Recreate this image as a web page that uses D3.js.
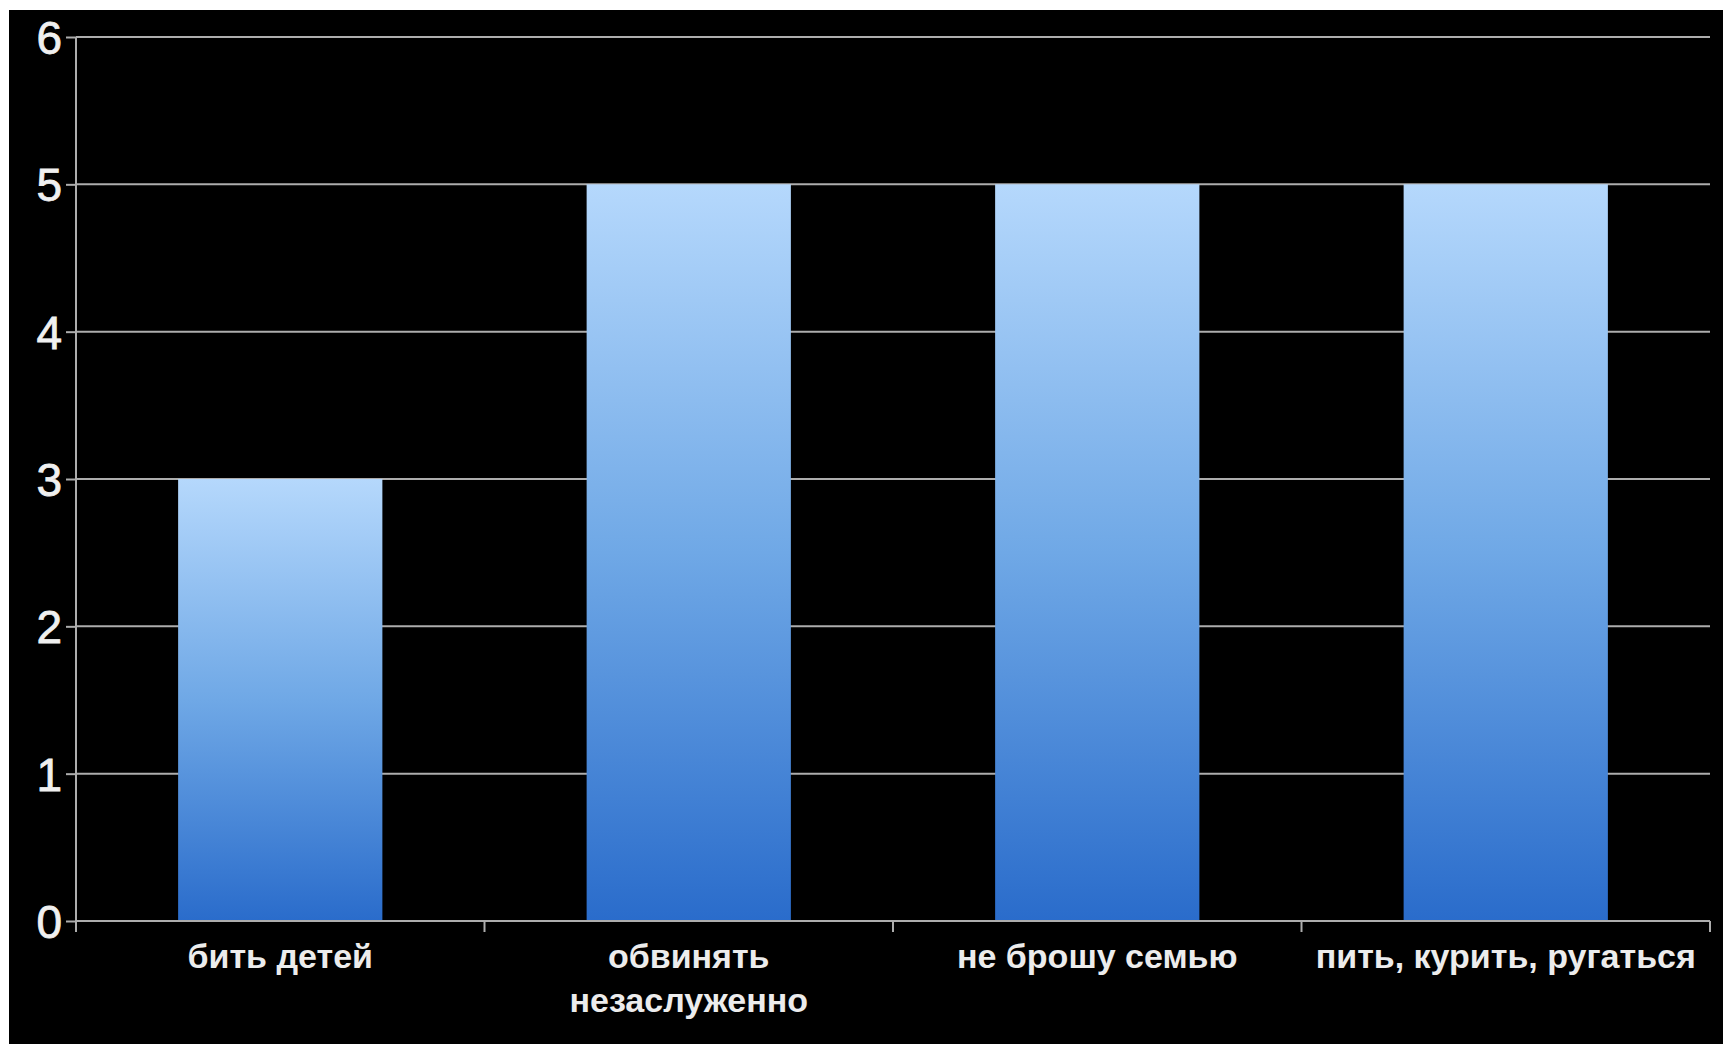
<!DOCTYPE html>
<html><head><meta charset="utf-8">
<script src="https://cdn.jsdelivr.net/npm/d3@7"></script>
<style>html,body{margin:0;padding:0;background:#fff;}svg{display:block;}</style>
</head><body>
<script>
const categories = ["бить детей", "обвинять незаслуженно", "не брошу семью", "пить, курить, ругаться"];
const labelLines = [["бить детей"], ["обвинять", "незаслуженно"], ["не брошу семью"], ["пить, курить, ругаться"]];
const values = [3, 5, 5, 5];
const yTicks = [0, 1, 2, 3, 4, 5, 6];

(function () {
const W = 1723, H = 1044;
const svg = d3.select("body").append("svg").attr("width", W).attr("height", H);
svg.append("rect").attr("x", 9).attr("y", 10).attr("width", W - 9).attr("height", H - 10).attr("fill", "#000");

const defs = svg.append("defs");
const grad = defs.append("linearGradient").attr("id", "barGrad").attr("x1", 0).attr("y1", 0).attr("x2", 0).attr("y2", 1);
grad.append("stop").attr("offset", "0%").attr("stop-color", "#b5d8fc");
grad.append("stop").attr("offset", "50%").attr("stop-color", "#6fa8e6");
grad.append("stop").attr("offset", "100%").attr("stop-color", "#2a6ccb");

const mLeft = 76, mRight = 1710, mTop = 37, mBottom = 921;
const x = d3.scaleBand().domain(categories).range([mLeft, mRight]).paddingInner(0.5).paddingOuter(0.25);
const y = d3.scaleLinear().domain([0, 6]).range([mBottom, mTop]);
const gridColor = "#adadad";
const font = "'Liberation Sans', Arial, sans-serif";

svg.append("g").selectAll("line").data(yTicks).join("line")
  .attr("x1", mLeft).attr("x2", mRight)
  .attr("y1", d => y(d)).attr("y2", d => y(d))
  .attr("stroke", gridColor).attr("stroke-width", 2);

svg.append("g").selectAll("rect").data(values).join("rect")
  .attr("x", (d, i) => x(categories[i]))
  .attr("width", x.bandwidth())
  .attr("y", d => y(d))
  .attr("height", d => y(0) - y(d))
  .attr("fill", "url(#barGrad)");

const yAxis = d3.axisLeft(y).tickValues(yTicks).tickSize(10).tickPadding(4).tickFormat(d3.format("d"));
const gy = svg.append("g").attr("transform", `translate(${mLeft},0)`).call(yAxis);
gy.select(".domain").remove();
gy.append("line").attr("x1", 0).attr("x2", 0).attr("y1", mTop).attr("y2", mBottom + 11).attr("stroke", gridColor).attr("stroke-width", 2);
gy.selectAll(".tick line").attr("stroke", gridColor).attr("stroke-width", 2);
gy.selectAll(".tick text").attr("fill", "#f0f0f0").style("font-family", font).style("font-size", "46px")
  .attr("stroke", "#f0f0f0").attr("stroke-width", 0.8).attr("dy", "0.36em");

const gx = svg.append("g").attr("transform", `translate(0,${mBottom})`);
gx.append("line").attr("x1", mLeft).attr("x2", mRight).attr("y1", 0).attr("y2", 0).attr("stroke", gridColor).attr("stroke-width", 2);
const bounds = categories.map(c => x(c) - x.step() * x.paddingInner() / 2).concat([mRight]);
gx.selectAll("line.tk").data(bounds.slice(1)).join("line").attr("class", "tk")
  .attr("x1", d => d).attr("x2", d => d).attr("y1", 0).attr("y2", 11)
  .attr("stroke", gridColor).attr("stroke-width", 2);

const lbl = gx.selectAll("text.lbl").data(categories).join("text").attr("class", "lbl")
  .attr("x", d => x(d) + x.bandwidth() / 2)
  .attr("text-anchor", "middle").attr("fill", "#ececec")
  .style("font-family", font).style("font-size", "34px").style("font-weight", "bold");
lbl.each(function(d, i) {
  d3.select(this).selectAll("tspan").data(labelLines[i]).join("tspan")
    .attr("x", x(d) + x.bandwidth() / 2)
    .attr("y", (t, j) => 47 + j * 44)
    .text(t => t);
});
})();
</script>
</body></html>
